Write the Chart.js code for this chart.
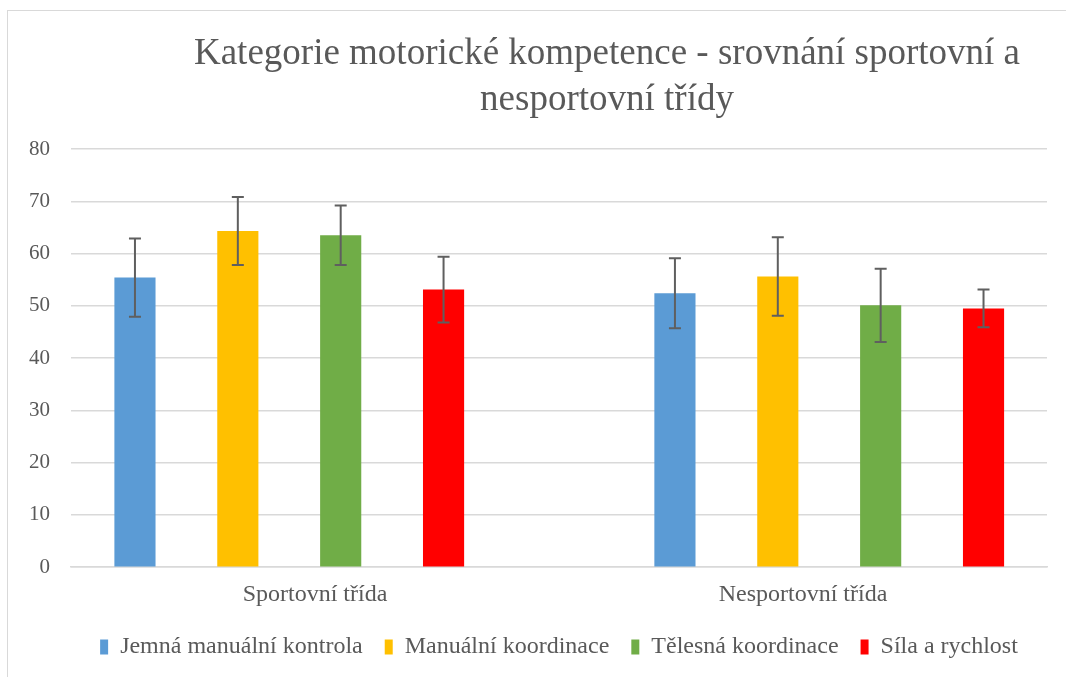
<!DOCTYPE html>
<html><head><meta charset="utf-8">
<script src="https://cdn.jsdelivr.net/npm/chart.js@4/dist/chart.umd.min.js"></script>
<style>
html,body{margin:0;padding:0;background:#fff;overflow:hidden;}
#frame{position:absolute;left:7px;top:10px;width:1200px;height:800px;border-left:1px solid #d9d9d9;border-top:1px solid #d9d9d9;}
#c{position:absolute;left:0;top:0;}
</style></head><body>
<div id="frame"></div>
<canvas id="c" width="1066" height="677"></canvas>
<script>
const categories = ["Sportovní třída", "Nesportovní třída"];
const seriesNames = ["Jemná manuální kontrola", "Manuální koordinace", "Tělesná koordinace", "Síla a rychlost"];
const jemna = [55.4, 52.4];
const manualni = [64.3, 55.6];
const telesna = [63.5, 50.1];
const sila = [53.1, 49.5];
const jemnaErr = [7.5, 6.7];
const manualniErr = [6.5, 7.5];
const telesnaErr = [5.7, 7.0];
const silaErr = [6.3, 3.6];
const yTicks = [0, 10, 20, 30, 40, 50, 60, 70, 80];
const titleLines = ["Kategorie motorické kompetence - srovnání sportovní a", "nesportovní třídy"];
const colors = ["#5b9bd5", "#ffc000", "#70ad47", "#ff0000"];

const values = [jemna, manualni, telesna, sila];
const errs = [jemnaErr, manualniErr, telesnaErr, silaErr];

const errorBars = {
  id: 'errorBars',
  afterDatasetsDraw(chart) {
    const ctx = chart.ctx;
    const y = chart.scales.y;
    ctx.save();
    ctx.strokeStyle = '#5f5f5f';
    ctx.lineWidth = 2;
    chart.data.datasets.forEach((ds, di) => {
      const meta = chart.getDatasetMeta(di);
      meta.data.forEach((bar, i) => {
        const v = values[di][i], e = ds.errors[i];
        const x = bar.x;
        const yt = y.getPixelForValue(v + e), yb = y.getPixelForValue(v - e);
        ctx.beginPath();
        ctx.moveTo(x, yt); ctx.lineTo(x, yb);
        ctx.moveTo(x - 6, yt); ctx.lineTo(x + 6, yt);
        ctx.moveTo(x - 6, yb); ctx.lineTo(x + 6, yb);
        ctx.stroke();
      });
    });
    ctx.restore();
  }
};

const titlePlugin = {
  id: 'titleText',
  afterDraw(chart) {
    const ctx = chart.ctx;
    ctx.save();
    ctx.font = '37px "Liberation Serif"';
    ctx.fillStyle = '#595959';
    ctx.textAlign = 'center';
    ctx.textBaseline = 'alphabetic';
    ctx.fillText(titleLines[0], 607, 64);
    ctx.fillText(titleLines[1], 607, 110);
    ctx.restore();
  }
};

new Chart(document.getElementById('c'), {
  type: 'bar',
  data: {
    labels: categories,
    datasets: seriesNames.map((n, i) => ({
      label: n,
      data: values[i].map((v, k) => ({ x: k, y: v })),
      errors: errs[i],
      backgroundColor: colors[i], borderWidth: 0,
      barPercentage: 0.4, categoryPercentage: 0.762,
      xAxisID: 'x', yAxisID: 'y'
    }))
  },
  options: {
    responsive: false, animation: false,
    layout: { padding: { left: 8, right: 19, top: 149, bottom: 8 } },
    plugins: {
      title: { display: false },
      legend: {
        position: 'bottom', fullSize: false,
        labels: {
          font: { family: "Liberation Serif", size: 24 }, color: '#595959',
          boxWidth: 8, boxHeight: 15, padding: 22
        }
      },
      tooltip: { enabled: false }
    },
    scales: {
      x: {
        type: 'linear', display: false, offset: false,
        min: -0.4042, max: 1.4033,
        afterBuildTicks(ax) { ax.ticks = [{ value: 0 }, { value: 1 }]; }
      },
      x2: {
        type: 'category', labels: categories, position: 'bottom',
        grid: { display: false, drawTicks: false },
        border: { color: '#d9d9d9', width: 1.5 },
        ticks: { font: { family: "Liberation Serif", size: 24 }, color: '#595959', padding: 13 },
        afterFit(ax) { ax.height -= 9; }
      },
      y: {
        min: 0, max: 80,
        afterBuildTicks(ax) { ax.ticks = yTicks.map(v => ({ value: v })); },
        grid: { color: '#d9d9d9', lineWidth: 1.5, drawTicks: false },
        border: { display: false },
        ticks: { font: { family: "Liberation Serif", size: 21 }, color: '#595959', padding: 21 }
      }
    }
  },
  plugins: [errorBars, titlePlugin]
});
</script>
</body></html>
